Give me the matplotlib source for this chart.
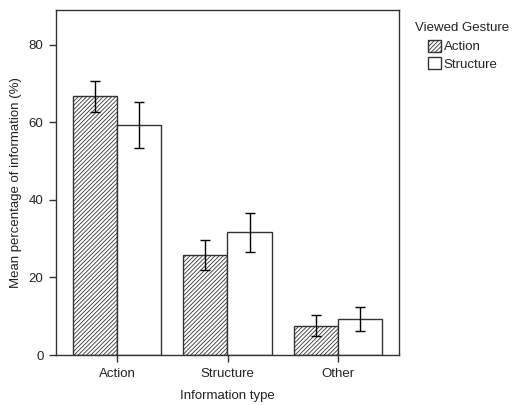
import numpy as np
import matplotlib
matplotlib.use('Agg')
import matplotlib.pyplot as plt
from matplotlib.patches import Patch

plt.rcParams['font.family'] = ['Liberation Sans', 'DejaVu Sans']
plt.rcParams['hatch.linewidth'] = 0.6
plt.rcParams['hatch.color'] = '#333333'

categories = ['Action', 'Structure', 'Other']
series = ['Action', 'Structure']
action_means = [66.7, 25.8, 7.6]
action_err = [3.9, 3.8, 2.75]
structure_means = [59.4, 31.7, 9.2]
structure_err = [5.9, 5.0, 3.1]

edge = '#333333'
fs = 9.5
fig = plt.figure(figsize=(5.12, 4.05), dpi=100)
ax = fig.add_axes([56 / 512, 50 / 405, 343 / 512, 345 / 405])

x = np.arange(len(categories))
w = 0.4
ax.bar(x - w / 2, action_means, w, color='white', edgecolor=edge, hatch='////////', linewidth=1)
ax.bar(x + w / 2, structure_means, w, color='white', edgecolor=edge, linewidth=1)
ax.errorbar(x - w / 2, action_means, yerr=action_err, fmt='none', ecolor='black',
            elinewidth=1, capsize=3.6, capthick=1)
ax.errorbar(x + w / 2, structure_means, yerr=structure_err, fmt='none', ecolor='black',
            elinewidth=1, capsize=3.6, capthick=1)

ax.set_xlim(-0.552, 2.552)
ax.set_ylim(0, 89)
ax.set_yticks([0, 20, 40, 60, 80])
ax.set_xticks(x)
ax.set_xticklabels(categories)
for s in ax.spines.values():
    s.set_color(edge)
    s.set_linewidth(1)
ax.tick_params(colors=edge, labelcolor='#222222', labelsize=fs, length=5, width=1, pad=4)
ax.tick_params(axis='x', pad=4.5)
ax.set_xlabel('Information type', fontsize=fs, color='#222222', labelpad=7)
ax.set_ylabel('Mean percentage of information (%)', fontsize=fs, color='#222222', labelpad=5)

# legend: title as separate text, entries indented below it
fig.text(415 / 512, 1 - 28 / 405, 'Viewed Gesture', fontsize=fs, color='#222222',
         ha='left', va='center')
handles = [Patch(facecolor='white', edgecolor=edge, hatch='////////', label=series[0]),
           Patch(facecolor='white', edgecolor=edge, label=series[1])]
leg = fig.legend(handles=handles, loc='upper left',
                 bbox_to_anchor=(428 / 512, 1 - 40 / 405), frameon=False, fontsize=fs,
                 handlelength=1.0, handleheight=1.0, handletextpad=0.2,
                 labelspacing=0.3, borderpad=0, borderaxespad=0)
for t in leg.get_texts():
    t.set_color('#222222')

fig.savefig('out.png', dpi=100)
